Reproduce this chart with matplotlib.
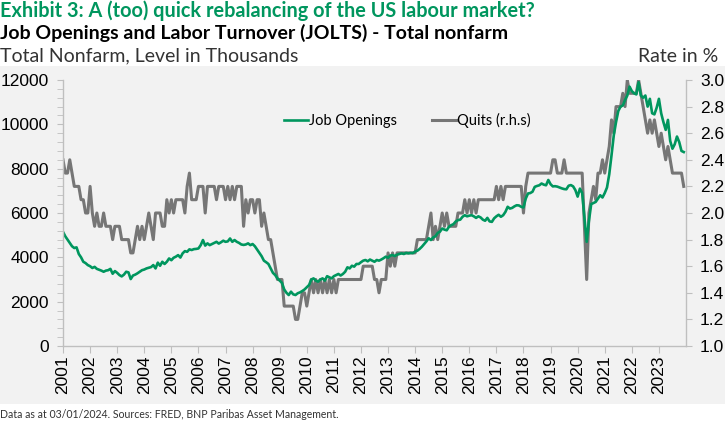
import matplotlib
matplotlib.use("Agg")
import matplotlib.pyplot as plt
from matplotlib.patches import Rectangle
from matplotlib.ticker import MultipleLocator
import numpy as np

# Monthly data, Dec 2000 .. Nov 2023 (276 points)
job_openings = [
    5150,
    4950, 4800, 4650, 4500, 4420, 4450, 4150, 4000, 3800, 3740, 3650, 3600,
    3520, 3570, 3480, 3440, 3400, 3350, 3400, 3420, 3480, 3260, 3380, 3300,
    3200, 3140, 3220, 3350, 3320, 3020, 3180, 3220, 3280, 3350, 3420, 3450,
    3500, 3530, 3560, 3650, 3500, 3760, 3620, 3800, 3700, 3800, 3950, 3870,
    3980, 4030, 4100, 3990, 4180, 4280, 4250, 4360, 4330, 4370, 4380, 4400,
    4550, 4780, 4530, 4630, 4550, 4600, 4650, 4700, 4620, 4680, 4750, 4700,
    4720, 4850, 4700, 4780, 4700, 4650, 4580, 4560, 4580, 4630, 4550, 4600,
    4500, 4350, 4200, 4050, 3850, 3780, 3700, 3500, 3300, 3200, 3050, 2950,
    2850, 2550, 2400, 2300, 2450, 2330, 2300, 2380, 2420, 2480, 2550, 2650,
    2750, 3000, 3050, 2950, 2900, 3000, 3050, 2950, 3150, 3100, 3050, 3150,
    3200, 3250, 3180, 3250, 3350, 3550, 3500, 3620, 3580, 3700, 3700, 3780,
    3850, 3880, 3820, 3900, 3850, 3800, 3880, 3850, 3900, 3960, 4030, 3980,
    4080, 4100, 4060, 4120, 4150, 4180, 4150, 4200, 4180, 4200, 4190, 4260,
    4300, 4380, 4480, 4600, 4720, 4860, 4780, 4900, 4950, 5100, 5160, 5300,
    5250, 5220, 5380, 5450, 5500, 5620, 5680, 5700, 5830, 5900, 5850, 5880,
    5900, 5850, 5780, 5850, 5800, 5700, 5650, 5780, 5620, 5600, 5760, 5850,
    5920, 5830, 5900, 6050, 6280, 6200, 6230, 6300, 6350, 6340, 6280, 6250,
    6650, 6880, 6900, 6960, 7180, 7220, 7250, 7330, 7280, 7250, 7490, 7300,
    7200, 7210, 7190, 7150, 7110, 7080, 7070, 7230, 7260, 7200, 7030, 6740,
    7100, 6900, 5800, 4700, 5650, 6400, 6450, 6500, 6650, 6800, 6700, 6900,
    7150, 7750, 8600, 9500, 10100, 10600, 10800, 10850, 11100, 11300, 11700, 11500,
    11400, 11350, 11900, 11300, 11200, 11300, 10800, 11150, 10500, 10450, 10750, 11150,
    10500, 10100, 9750, 10200, 9250, 8900, 9100, 9450, 9200, 8800, 8750,
]

quits_rate = [
    2.4,
    2.3, 2.3, 2.4, 2.3, 2.2, 2.2, 2.2, 2.1, 2.1, 2.0, 2.0, 2.2,
    2.0, 1.9, 2.0, 1.9, 1.9, 2.0, 1.9, 1.9, 1.9, 1.8, 1.9, 1.9,
    1.9, 1.8, 1.8, 1.8, 1.8, 1.7, 1.7, 1.8, 1.9, 1.8, 1.9, 1.8,
    1.9, 2.0, 1.9, 1.8, 2.0, 2.0, 2.0, 1.9, 1.9, 2.1, 2.0, 2.1,
    2.0, 2.1, 2.1, 2.1, 2.1, 2.0, 2.2, 2.3, 2.1, 2.1, 2.1, 2.2,
    2.2, 2.2, 2.0, 2.2, 2.2, 2.2, 2.2, 2.1, 2.2, 2.2, 2.2, 2.1,
    2.2, 2.1, 2.2, 2.1, 2.2, 2.2, 2.2, 1.9, 2.1, 2.0, 2.1, 2.1,
    2.0, 2.1, 2.1, 1.9, 2.0, 1.9, 1.8, 1.8, 1.7, 1.6, 1.5, 1.5,
    1.5, 1.3, 1.3, 1.3, 1.3, 1.3, 1.2, 1.2, 1.3, 1.4, 1.4, 1.3,
    1.4, 1.5, 1.4, 1.5, 1.4, 1.5, 1.4, 1.5, 1.4, 1.5, 1.4, 1.5,
    1.4, 1.5, 1.5, 1.5, 1.5, 1.5, 1.5, 1.5, 1.5, 1.5, 1.5, 1.5,
    1.6, 1.6, 1.6, 1.6, 1.6, 1.5, 1.5, 1.4, 1.5, 1.5, 1.5, 1.7,
    1.6, 1.7, 1.6, 1.7, 1.7, 1.7, 1.7, 1.7, 1.7, 1.7, 1.7, 1.7,
    1.8, 1.8, 1.8, 1.8, 1.8, 1.9, 2.0, 1.8, 1.9, 1.8, 1.9, 2.0,
    1.9, 2.0, 1.9, 1.9, 1.9, 1.9, 2.0, 2.0, 2.0, 2.1, 2.0, 2.1,
    2.0, 2.1, 2.0, 2.1, 2.1, 2.1, 2.1, 2.1, 2.1, 2.1, 2.1, 2.2,
    2.1, 2.2, 2.1, 2.2, 2.2, 2.2, 2.2, 2.2, 2.2, 2.2, 2.2, 2.0,
    2.2, 2.3, 2.3, 2.3, 2.3, 2.3, 2.3, 2.3, 2.3, 2.3, 2.3, 2.3,
    2.4, 2.4, 2.3, 2.3, 2.3, 2.4, 2.3, 2.3, 2.3, 2.3, 2.3, 2.3,
    2.3, 2.3, 1.9, 1.5, 2.0, 2.1, 2.2, 2.1, 2.3, 2.3, 2.4, 2.3,
    2.4, 2.5, 2.7, 2.6, 2.8, 2.8, 2.8, 2.9, 2.8, 3.0, 2.9, 2.9,
    2.9, 2.9, 3.0, 2.9, 2.8, 2.7, 2.6, 2.7, 2.6, 2.7, 2.6, 2.5,
    2.6, 2.5, 2.4, 2.5, 2.4, 2.3, 2.3, 2.3, 2.3, 2.3, 2.2,
]

year_labels = [str(y) for y in range(2001, 2024)]
rate_ticks = [1.0, 1.2, 1.4, 1.6, 1.8, 2.0, 2.2, 2.4, 2.6, 2.8, 3.0]

GREEN = "#00965E"
GREY = "#767676"
PANEL = "#F2F2F2"
AXC = "#BFBFBF"
HEAD = ['Lato', 'DejaVu Sans']

plt.rcParams['font.family'] = ['Liberation Sans', 'DejaVu Sans']

fig = plt.figure(figsize=(7.25, 4.24), dpi=100)
fig.patch.set_facecolor("white")
bg = Rectangle((0, 1 - 404/424), 1, (404 - 66)/424, transform=fig.transFigure,
               facecolor=PANEL, edgecolor="none", zorder=-10)
fig.add_artist(bg)

ax = fig.add_axes([63/725, 1 - 346/424, (686 - 63)/725, (346 - 80)/424])
ax.set_facecolor("none")
ax2 = ax.twinx()
ax2.set_facecolor("none")
ax.set_zorder(2)
ax2.set_zorder(1)

x = np.arange(len(job_openings))
l2, = ax2.plot(x, quits_rate, color=GREY, lw=2.2, label="Quits (r.h.s)")
l1, = ax.plot(x, job_openings, color=GREEN, lw=1.9, label="Job Openings")

ax.set_xlim(0, len(job_openings))
ax.set_ylim(0, 12000)
ax2.set_ylim(1.0, 3.0)

ax.set_xticks(np.arange(0, 12 * len(year_labels), 12))
ax.set_xticklabels(year_labels, rotation=90)
ax.yaxis.set_major_locator(MultipleLocator(2000))
ax.yaxis.set_minor_locator(MultipleLocator(400))
ax2.set_yticks(rate_ticks)
ax2.set_yticklabels([f"{v:.1f}" for v in rate_ticks])

for a in (ax, ax2):
    for s in a.spines.values():
        s.set_color(AXC)
        s.set_linewidth(1.0)
    a.spines['top'].set_visible(False)
ax.spines['right'].set_visible(False)
ax2.spines['left'].set_visible(False)
ax2.spines['bottom'].set_visible(False)

ax.tick_params(axis='both', which='both', color=AXC, direction='out')
ax.tick_params(axis='x', length=5, labelsize=12.5, pad=2)
ax.tick_params(axis='y', which='major', length=4, labelsize=12.5, pad=6)
ax.tick_params(axis='y', which='minor', length=4)
ax2.tick_params(axis='y', length=4, color=AXC, labelsize=12.5, pad=6)

ax.legend([l1, l2], ["Job Openings", "Quits (r.h.s)"], ncol=2,
          loc='center', bbox_to_anchor=(0.553, 0.846), frameon=False,
          handlelength=1.6, handletextpad=0.1, columnspacing=2.4,
          prop={'family': HEAD, 'size': 10.5})

fig.text(0.0, 1 - 11/424, "Exhibit 3: A (too) quick rebalancing of the US labour market?",
         color=GREEN, fontsize=14.3, fontweight='bold', va='center', ha='left',
         family=HEAD)
fig.text(0.0, 1 - 33/424, "Job Openings and Labor Turnover (JOLTS) - Total nonfarm",
         color="black", fontsize=14, fontweight='bold', va='center', ha='left',
         family=HEAD)
fig.text(0.0, 1 - 56/424, "Total Nonfarm, Level in Thousands",
         color="#333333", fontsize=14, fontweight='normal', va='center', ha='left',
         family=HEAD)
fig.text(718/725, 1 - 56/424, "Rate in %",
         color="#333333", fontsize=14, fontweight='normal', va='center', ha='right',
         family=HEAD)
fig.text(0.0, 1 - 414/424, "Data as at 03/01/2024. Sources: FRED, BNP Paribas Asset Management.",
         color="#333333", fontsize=7.6, va='center', ha='left', family=HEAD)

fig.savefig("out.png", dpi=100)
